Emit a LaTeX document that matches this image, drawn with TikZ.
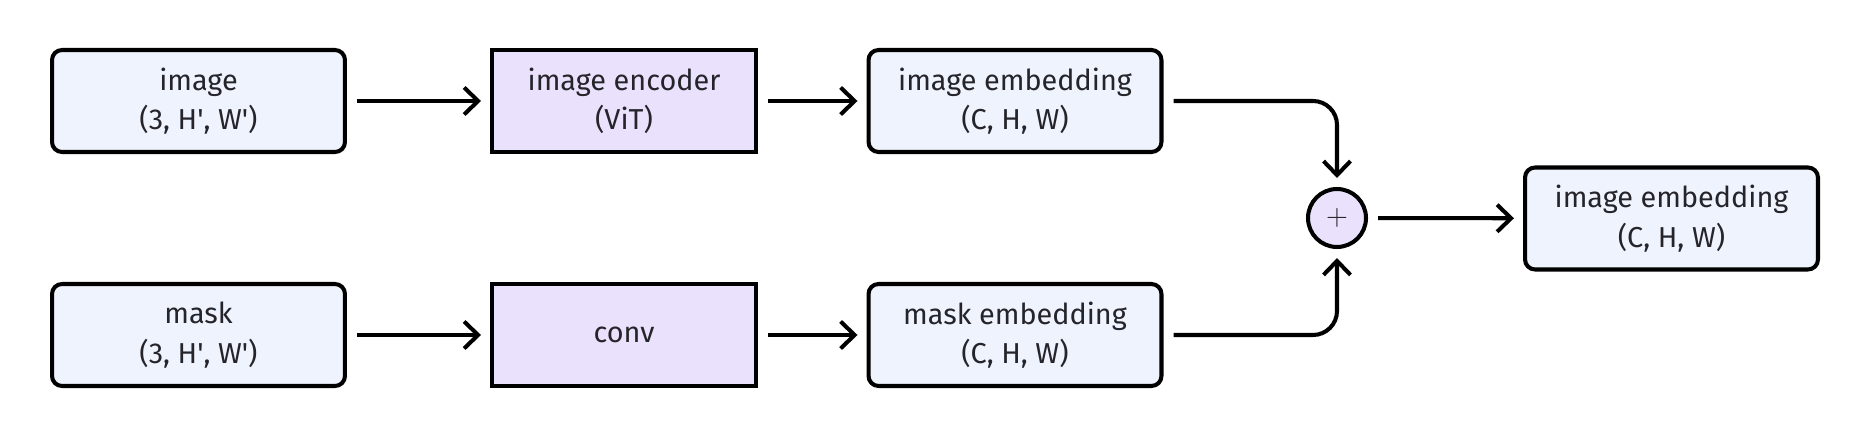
\documentclass[tikz,border=0pt]{standalone}
\usepackage{fontspec}
\setmainfont{Fira Sans}
\usetikzlibrary{calc,shapes,positioning}
\usetikzlibrary{arrows.meta}
\tikzset{>={Straight Barb[width=0.54cm,length=0.28cm,line width=2.3pt]}}
\definecolor{boxblue}{RGB}{239,243,253}
\definecolor{boxpurple}{RGB}{234,226,253}
\definecolor{txtgray}{RGB}{36,36,42}

\begin{document}
\begin{tikzpicture}[x=0.02cm,y=-0.02cm]
        \useasboundingbox (0,0) rectangle (1870,438);
        \begin{scope}[font=\fontsize{16.4}{22.5}\selectfont, text=txtgray]

          \tikzstyle{dnode} = [line width=2.3pt, draw=black, fill=boxblue, rectangle, rounded corners = 0.2cm, minimum width=5.86cm, minimum height=2.04cm, align=center, inner sep = 0pt]
          \tikzstyle{mnode} = [line width=2.3pt, draw=black, fill=boxpurple, rectangle, minimum width=5.28cm, minimum height=2.04cm, align=center, inner sep = 0pt]
          \tikzstyle{snode} = [line width=2.3pt, draw=black, fill=boxpurple, circle, minimum size=1.16cm, inner sep = 0pt]
          \tikzstyle{link} = [line width=2.3pt, shorten <=0.2cm, shorten >=0.18cm]

          \node[dnode] (img) at (198.5,101) {image\\(3, H\textquotesingle, W\textquotesingle)};
          \node[mnode] (enc) at (624,101) {image encoder\\(ViT)};
          \node[dnode] (iemb) at (1015,101) {image embedding\\(C, H, W)};

          \node[dnode] (mask) at (198.5,335) {mask\\(3, H\textquotesingle, W\textquotesingle)};
          \node[mnode] (conv) at (624,335) {conv};
          \node[dnode] (memb) at (1015,335) {mask embedding\\(C, H, W)};

          \node[snode] (plus) at (1337,218) {\fontsize{16}{18}\selectfont$+$};
          \node[dnode] (out) at (1671.5,218.5) {image embedding\\(C, H, W)};

          \draw[link,->] (img) -- (enc);
          \draw[link,->] (enc) -- (iemb);

          \draw[link,->] (mask) -- (conv);
          \draw[link,->] (conv) -- (memb);

          \draw[link,->,rounded corners=0.48cm] (iemb.east) -| (plus.north);
          \draw[link,->,rounded corners=0.48cm] (memb.east) -| (plus.south);
          \draw[link,->] (plus) -- (out);

        \end{scope}
      \end{tikzpicture}
\end{document}
